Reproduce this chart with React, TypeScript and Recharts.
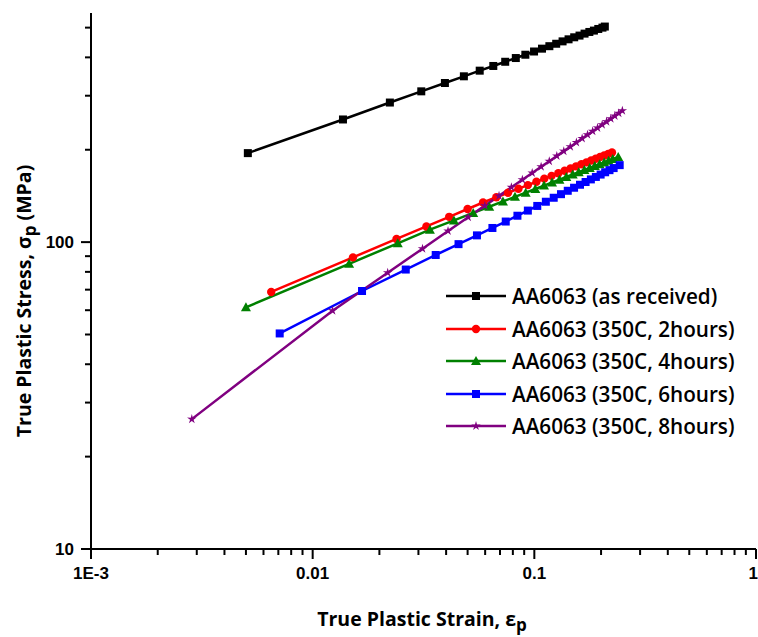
import { LineChart, Line, XAxis, YAxis, Legend } from "recharts";

// true plastic strain / true plastic stress (MPa)
const strainAsReceived = [0.0051, 0.0137, 0.0223, 0.0309, 0.0395, 0.0481, 0.0567, 0.0653, 0.0739, 0.0825, 0.0911, 0.0997, 0.1083, 0.1169, 0.1255, 0.1341, 0.1427, 0.1513, 0.1599, 0.1685, 0.1771, 0.1857, 0.1943, 0.2029, 0.208];
const stressAsReceived = [195, 251, 285, 310, 330, 347, 362, 375, 387, 398, 408, 418, 427, 435, 443, 451, 458, 465, 471, 478, 484, 489, 495, 500, 504];

const strain2h = [0.0065, 0.0152, 0.0239, 0.0326, 0.0413, 0.05, 0.0587, 0.0674, 0.0761, 0.0848, 0.0935, 0.1022, 0.1109, 0.1196, 0.1283, 0.137, 0.1457, 0.1544, 0.1631, 0.1718, 0.1805, 0.1892, 0.1979, 0.2066, 0.2153, 0.224];
const stress2h = [68.8, 89.2, 102.4, 112.5, 120.9, 128.2, 134.6, 140.0, 144.8, 149.3, 153.4, 157.3, 161.0, 164.4, 167.7, 170.8, 173.8, 176.6, 179.3, 181.9, 184.5, 186.9, 189.3, 191.6, 193.8, 196.0];

const strain4h = [0.005, 0.0146, 0.0242, 0.0338, 0.0434, 0.053, 0.0626, 0.0722, 0.0818, 0.0914, 0.101, 0.1106, 0.1202, 0.1298, 0.1394, 0.149, 0.1586, 0.1682, 0.1778, 0.1874, 0.197, 0.2066, 0.2162, 0.2258, 0.239];
const stress4h = [61.3, 85.0, 99.1, 109.8, 117.7, 124.5, 130.4, 135.7, 140.5, 144.9, 149.0, 152.8, 156.4, 159.8, 163.0, 166.1, 169.0, 171.8, 174.5, 177.0, 179.5, 181.9, 184.3, 186.5, 189.5];

const strain6h = [0.0071, 0.0167, 0.0263, 0.0359, 0.0455, 0.0551, 0.0647, 0.0743, 0.0839, 0.0935, 0.1031, 0.1127, 0.1223, 0.1319, 0.1415, 0.1511, 0.1607, 0.1703, 0.1799, 0.1895, 0.1991, 0.2087, 0.2183, 0.2279, 0.2427];
const stress6h = [50.4, 69.3, 81.4, 90.8, 98.5, 105.2, 111.2, 116.7, 121.9, 126.7, 131.2, 135.4, 139.5, 143.3, 147.0, 150.4, 153.8, 157.0, 160.1, 163.1, 166.0, 168.9, 171.6, 174.3, 178.2];

const strain8h = [0.00285, 0.0123, 0.0218, 0.0313, 0.0408, 0.0503, 0.0598, 0.0693, 0.0788, 0.0883, 0.0978, 0.1073, 0.1168, 0.1263, 0.1358, 0.1453, 0.1548, 0.1643, 0.1738, 0.1833, 0.1928, 0.2023, 0.2118, 0.2213, 0.2308, 0.2403, 0.2495];
const stress8h = [26.5, 59.8, 79.5, 95.2, 108.7, 120.6, 131.5, 141.5, 150.9, 159.7, 168.0, 176.0, 183.5, 190.9, 197.9, 204.6, 211.2, 217.6, 223.7, 229.8, 235.6, 241.3, 247.0, 252.5, 257.7, 263.0, 267.9];

const xTicks = [0.001, 0.002, 0.003, 0.004, 0.005, 0.006, 0.007, 0.008, 0.009, 0.01, 0.02, 0.03, 0.04, 0.05, 0.06, 0.07, 0.08, 0.09, 0.1, 0.2, 0.3, 0.4, 0.5, 0.6, 0.7, 0.8, 0.9, 1];
const xTickLabels: Record<string, string> = { "0.001": "1E-3", "0.01": "0.01", "0.1": "0.1", "1": "1" };
const yTicks = [10, 20, 30, 40, 50, 60, 70, 80, 90, 100, 200, 300, 400, 500];
const yTickLabels: Record<string, string> = { "10": "10", "100": "100" };

const toPoints = (xs: number[], ys: number[]) => xs.map((x, i) => ({ x, y: ys[i] }));

type Shape = "square" | "circle" | "triangle" | "star";

const series: { name: string; color: string; shape: Shape; data: { x: number; y: number }[] }[] = [
  { name: "AA6063 (as received)", color: "#000000", shape: "square", data: toPoints(strainAsReceived, stressAsReceived) },
  { name: "AA6063 (350C, 2hours)", color: "#ff0000", shape: "circle", data: toPoints(strain2h, stress2h) },
  { name: "AA6063 (350C, 4hours)", color: "#008000", shape: "triangle", data: toPoints(strain4h, stress4h) },
  { name: "AA6063 (350C, 6hours)", color: "#0000ff", shape: "square", data: toPoints(strain6h, stress6h) },
  { name: "AA6063 (350C, 8hours)", color: "#800080", shape: "star", data: toPoints(strain8h, stress8h) },
];

const isMajor = (v: number) => {
  const l = Math.log10(v);
  return Math.abs(l - Math.round(l)) < 1e-6;
};

const Marker = ({ cx, cy, shape, color }: { cx: number; cy: number; shape: Shape; color: string }) => {
  if (cx == null || cy == null) return null;
  if (shape === "square") return <rect x={cx - 4} y={cy - 4} width={8} height={8} fill={color} />;
  if (shape === "circle") return <circle cx={cx} cy={cy} r={4.2} fill={color} />;
  if (shape === "triangle")
    return <polygon points={`${cx},${cy - 5} ${cx + 5},${cy + 4} ${cx - 5},${cy + 4}`} fill={color} />;
  const pts: string[] = [];
  for (let k = 0; k < 10; k++) {
    const r = k % 2 === 0 ? 5 : 1.8;
    const a = -Math.PI / 2 + (k * Math.PI) / 5;
    pts.push(`${cx + r * Math.cos(a)},${cy + r * Math.sin(a)}`);
  }
  return <polygon points={pts.join(" ")} fill={color} />;
};

const tickFont = { fontFamily: "'Liberation Sans', Arial, sans-serif", fontWeight: 700, fontSize: 17, fill: "#000" };
const titleFont = { fontFamily: "'Open Sans', sans-serif", fontWeight: 700, fontSize: 19.5, fill: "#000" };

const YTick = (props: any) => {
  const { x, y, payload } = props;
  const major = isMajor(payload.value);
  const len = major ? 10 : 6;
  return (
    <g>
      <line x1={x - len} x2={x} y1={y} y2={y} stroke="#000" strokeWidth={2} />
      {major && (
        <text x={x - 17} y={y} dy="0.36em" textAnchor="end" {...tickFont}>
          {yTickLabels[String(payload.value)]}
        </text>
      )}
    </g>
  );
};

const XTick = (props: any) => {
  const { x, y, payload } = props;
  const major = isMajor(payload.value);
  const len = major ? 10 : 6;
  const last = payload.value === 1;
  return (
    <g>
      <line x1={x} x2={x} y1={y} y2={y + len} stroke="#000" strokeWidth={2} />
      {major && (
        <text x={last ? x + 2 : x} y={y + 30} textAnchor={last ? "end" : "middle"} {...tickFont}>
          {xTickLabels[String(payload.value)]}
        </text>
      )}
    </g>
  );
};

const LegendBox = () => (
  <div style={{ fontFamily: "'Open Sans', sans-serif", fontWeight: 600, fontSize: 20.7, color: "#000" }}>
    {series.map((s) => (
      <div key={s.name} style={{ display: "flex", alignItems: "center", height: 32.5, whiteSpace: "nowrap" }}>
        <svg width={60} height={14} style={{ marginRight: 6 }}>
          <line x1={0} x2={60} y1={7} y2={7} stroke={s.color} strokeWidth={2.5} />
          <Marker cx={30} cy={7} shape={s.shape} color={s.color} />
        </svg>
        <span>{s.name}</span>
      </div>
    ))}
  </div>
);

export default function App() {
  return (
    <div style={{ position: "absolute", left: 0, top: 0, width: 758, height: 637, background: "#fff" }}>
      <LineChart width={758} height={637} margin={{ top: 13, right: 2, bottom: 0, left: 0 }}>
        <XAxis
          type="number"
          dataKey="x"
          scale="log"
          domain={[0.001, 1]}
          allowDataOverflow
          ticks={xTicks}
          interval={0}
          height={88}
          tickSize={0}
          tickMargin={0}
          tickLine={false}
          axisLine={{ stroke: "#000", strokeWidth: 2 }}
          tick={<XTick />}
          label={{
            content: () => (
              <text x={422} y={626} textAnchor="middle" {...titleFont}>
                True Plastic Strain, ε
                <tspan dy={5} fontSize={17}>p</tspan>
              </text>
            ),
          }}
        />
        <YAxis
          type="number"
          dataKey="y"
          scale="log"
          domain={[10, 558]}
          allowDataOverflow
          ticks={yTicks}
          interval={0}
          width={91}
          tickSize={0}
          tickMargin={0}
          tickLine={false}
          axisLine={{ stroke: "#000", strokeWidth: 2 }}
          tick={<YTick />}
          label={{
            content: () => (
              <text x={31} y={301} textAnchor="middle" transform="rotate(-90, 31, 301)" {...titleFont}>
                True Plastic Stress, σ
                <tspan dy={5} fontSize={17}>p</tspan>
                <tspan dy={-5}> (MPa)</tspan>
              </text>
            ),
          }}
        />
        <Legend
          verticalAlign="middle"
          align="center"
          layout="vertical"
          wrapperStyle={{ left: 446, top: 280, width: 310 }}
          content={() => <LegendBox />}
        />
        {series.map((s) => (
          <Line
            key={s.name}
            data={s.data}
            dataKey="y"
            name={s.name}
            stroke={s.color}
            strokeWidth={2.5}
            isAnimationActive={false}
            dot={(p: any) => <Marker key={`${s.name}-${p.index}`} cx={p.cx} cy={p.cy} shape={s.shape} color={s.color} />}
            activeDot={false}
          />
        ))}
      </LineChart>
    </div>
  );
}
